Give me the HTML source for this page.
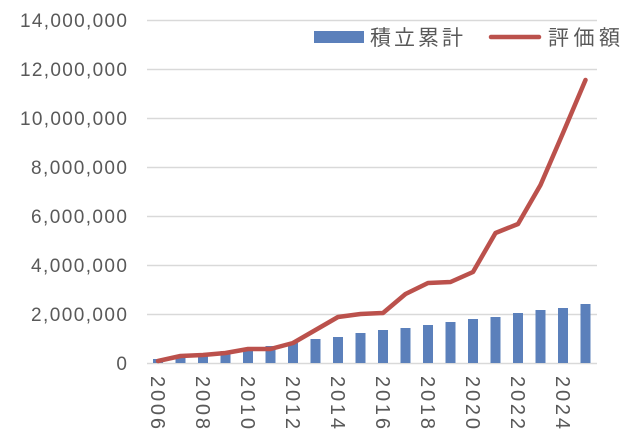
<!DOCTYPE html>
<html><head><meta charset="utf-8"><style>
html,body{margin:0;padding:0;background:#fff;}
svg{display:block;}
text{font-family:"Liberation Sans","Noto Sans CJK JP",sans-serif;fill:#595959;}
</style></head><body>
<svg width="640" height="448" viewBox="0 0 640 448" xmlns="http://www.w3.org/2000/svg">
<g stroke="#d9d9d9" stroke-width="1.5">
<line x1="147" x2="597" y1="20.5" y2="20.5"/>
<line x1="147" x2="597" y1="69.5" y2="69.5"/>
<line x1="147" x2="597" y1="118.5" y2="118.5"/>
<line x1="147" x2="597" y1="167.5" y2="167.5"/>
<line x1="147" x2="597" y1="216.5" y2="216.5"/>
<line x1="147" x2="597" y1="265.5" y2="265.5"/>
<line x1="147" x2="597" y1="314.5" y2="314.5"/>
<line x1="147" x2="597" y1="363.5" y2="363.5"/>
</g>
<g font-size="19" text-anchor="end">
<text x="127" y="27" textLength="107">14,000,000</text>
<text x="127" y="76" textLength="107">12,000,000</text>
<text x="127" y="125" textLength="107">10,000,000</text>
<text x="127" y="174" textLength="96">8,000,000</text>
<text x="127" y="223" textLength="96">6,000,000</text>
<text x="127" y="272" textLength="96">4,000,000</text>
<text x="127" y="321" textLength="96">2,000,000</text>
<text x="127" y="370">0</text>
</g>
<g fill="#5b80bb">
<rect x="153" y="359" width="10" height="4"/>
<rect x="175.5" y="357" width="10" height="6"/>
<rect x="198" y="356" width="10" height="7"/>
<rect x="220.5" y="351" width="10" height="12"/>
<rect x="243" y="350" width="10" height="13"/>
<rect x="265.5" y="346" width="10" height="17"/>
<rect x="288" y="343" width="10" height="20"/>
<rect x="310.5" y="339" width="10" height="24"/>
<rect x="333" y="337" width="10" height="26"/>
<rect x="355.5" y="333" width="10" height="30"/>
<rect x="378" y="330" width="10" height="33"/>
<rect x="400.5" y="328" width="10" height="35"/>
<rect x="423" y="325" width="10" height="38"/>
<rect x="445.5" y="322" width="10" height="41"/>
<rect x="468" y="319" width="10" height="44"/>
<rect x="490.5" y="317" width="10" height="46"/>
<rect x="513" y="313" width="10" height="50"/>
<rect x="535.5" y="310" width="10" height="53"/>
<rect x="558" y="308" width="10" height="55"/>
<rect x="580.5" y="304" width="10" height="59"/>
</g>
<polyline fill="none" stroke="#bb514c" stroke-width="4.5" stroke-linejoin="round" stroke-linecap="round"
points="158,361 180.5,356 203,355 225.5,353 248,349 270.5,349 293,343 315.5,330 338,317 360.5,314 383,313 405.5,294 428,283 450.5,282 473,272 495.5,233 518,224 540.5,185 563,133 585.5,80"/>
<g font-size="20">
<text transform="translate(151,376) rotate(90)" textLength="53">2006</text>
<text transform="translate(196,376) rotate(90)" textLength="53">2008</text>
<text transform="translate(241,376) rotate(90)" textLength="53">2010</text>
<text transform="translate(286,376) rotate(90)" textLength="53">2012</text>
<text transform="translate(331,376) rotate(90)" textLength="53">2014</text>
<text transform="translate(376,376) rotate(90)" textLength="53">2016</text>
<text transform="translate(421,376) rotate(90)" textLength="53">2018</text>
<text transform="translate(466,376) rotate(90)" textLength="53">2020</text>
<text transform="translate(511,376) rotate(90)" textLength="53">2022</text>
<text transform="translate(556,376) rotate(90)" textLength="53">2024</text>
</g>
<rect x="314" y="31" width="50" height="12" fill="#5b80bb"/>
<text x="370" y="45" font-size="21" textLength="93">積立累計</text>
<line x1="491" x2="539" y1="37" y2="37" stroke="#bb514c" stroke-width="4.5" stroke-linecap="round"/>
<text x="548" y="45" font-size="21" textLength="72">評価額</text>
</svg>
</body></html>
